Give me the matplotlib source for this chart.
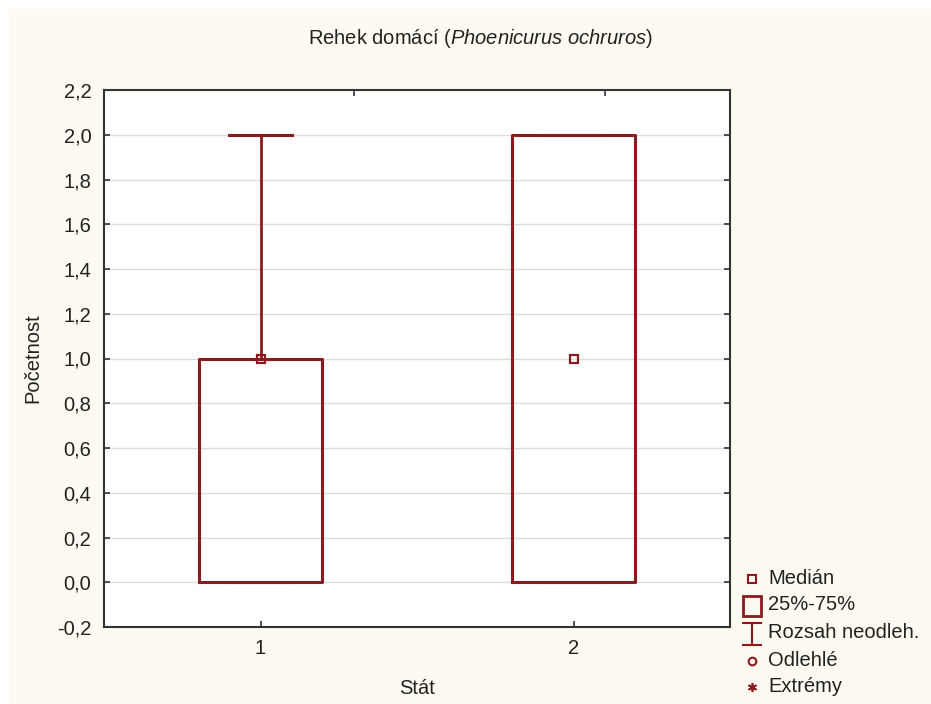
import matplotlib.pyplot as plt
from matplotlib.lines import Line2D
from matplotlib.patches import Rectangle
from matplotlib.ticker import FuncFormatter

plt.rcParams['font.family'] = ['Liberation Sans', 'DejaVu Sans']
plt.rcParams['mathtext.fontset'] = 'custom'
plt.rcParams['mathtext.rm'] = 'Liberation Sans'
plt.rcParams['mathtext.it'] = 'Liberation Sans:italic'

# box plot summary per state
states = [1, 2]
medians = [1.0, 1.0]
q1 = [0.0, 0.0]
q3 = [1.0, 2.0]
whis_lo = [0.0, 0.0]
whis_hi = [2.0, 2.0]

yticks = [-0.2, 0.0, 0.2, 0.4, 0.6, 0.8, 1.0, 1.2, 1.4, 1.6, 1.8, 2.0, 2.2]
legend_labels = ["Medián", "25%-75%", "Rozsah neodleh.", "Odlehlé", "Extrémy"]

red = "#8b1a1f"
cream = "#fdfaf2"
txt = "#222222"
fs = 14.5

W, H = 931, 704
fig = plt.figure(figsize=(W / 100, H / 100), dpi=100)
fig.patches.append(Rectangle((9 / W, 0), 1, 1 - 9 / H, transform=fig.transFigure,
                             facecolor=cream, edgecolor="none", zorder=-10))

ax = fig.add_axes([104 / W, 1 - 627 / H, 626 / W, 537 / H])
ax.set_facecolor("white")

stats = []
for i in range(len(states)):
    stats.append(dict(med=medians[i], q1=q1[i], q3=q3[i],
                      whislo=whis_lo[i], whishi=whis_hi[i], fliers=[]))

ax.bxp(stats, positions=states, widths=0.39, capwidths=0.2,
       boxprops=dict(color=red, linewidth=2.2),
       whiskerprops=dict(color=red, linewidth=2.0),
       capprops=dict(color=red, linewidth=2.2),
       medianprops=dict(linewidth=0))
ax.plot(states, medians, linestyle="none", marker="s", markersize=6,
        markerfacecolor="none", markeredgecolor=red, markeredgewidth=1.6, zorder=5)

ax.set_xlim(0.5, 2.5)
ax.set_ylim(-0.2, 2.2)
ax.set_xticks(states)
ax.set_xticklabels([str(s) for s in states])
ax.set_yticks(yticks)
ax.yaxis.set_major_formatter(FuncFormatter(lambda v, p: f"{v:.1f}".replace(".", ",").replace("-0,0", "0,0")))
ax.grid(axis="y", color="#dddddd", linewidth=1.0)
ax.set_axisbelow(True)

ax.tick_params(direction="in", length=4, width=1.2, color="#333333",
               labelsize=fs, labelcolor=txt, pad=9, right=True)
sec = ax.secondary_xaxis("top")
sec.set_xticks([1.3, 2.1])
sec.set_xticklabels(["", ""])
sec.tick_params(direction="in", length=4, width=1.2, color="#333333")
sec.spines["top"].set_visible(False)

for s in ax.spines.values():
    s.set_color("#333333")
    s.set_linewidth(1.5)

# title and axis labels in pixel positions
fig.text(481 / W, 1 - 38 / H, r"Rehek domácí ($\it{Phoenicurus\ ochruros}$)", fontsize=fs,
         color=txt, ha="center", va="center")
fig.text(417 / W, 1 - 688 / H, "Stát", fontsize=fs, color=txt, ha="center", va="center")
fig.text(33 / W, 1 - 358 / H, "Početnost", fontsize=fs, color=txt, ha="center", va="center",
         rotation=90)

# legend drawn by hand at the lower right
leg_y = [579, 605, 633, 661, 687]
mx = 752 / W
def fy(py):
    return 1 - py / H

fig.add_artist(Line2D([mx], [fy(leg_y[0])], linestyle="none", marker="s", markersize=5.5,
                      markerfacecolor="none", markeredgecolor=red, markeredgewidth=1.5))
fig.add_artist(Rectangle((743 / W, fy(616)), 18 / W, 20 / H, facecolor="none",
                         edgecolor=red, linewidth=2.0))
fig.add_artist(Line2D([mx, mx], [fy(623), fy(645)], color=red, linewidth=1.5))
fig.add_artist(Line2D([743 / W, 761 / W], [fy(623), fy(623)], color=red, linewidth=1.5))
fig.add_artist(Line2D([743 / W, 761 / W], [fy(645), fy(645)], color=red, linewidth=1.5))
fig.add_artist(Line2D([mx], [fy(leg_y[3])], linestyle="none", marker="o", markersize=5.5,
                      markerfacecolor="none", markeredgecolor=red, markeredgewidth=1.5))
fig.add_artist(Line2D([mx], [fy(leg_y[4])], linestyle="none", marker=(6, 2, 0), markersize=6.5,
                      markeredgecolor=red, markeredgewidth=1.2))
for py, lab in zip(leg_y, legend_labels):
    fig.text(768 / W, fy(py), lab, fontsize=fs, color=txt, ha="left", va="center")

fig.savefig("out.png", dpi=100, facecolor="white")
